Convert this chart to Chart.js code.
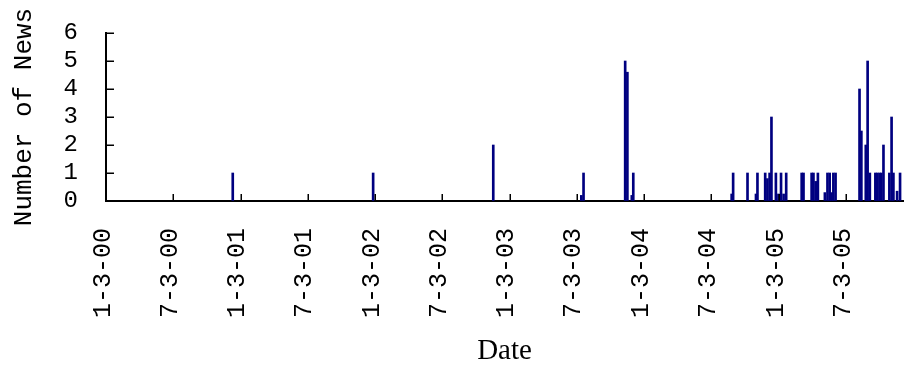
<!DOCTYPE html>
<html>
<head>
<meta charset="utf-8">
<script src="https://cdn.jsdelivr.net/npm/chart.js@4.4.1/dist/chart.umd.min.js"></script>
<style>
  html, body { margin: 0; padding: 0; background: #fff; }
  #wrap { width: 904px; height: 381px; }
</style>
</head>
<body>
<div id="wrap"><canvas id="news" width="904" height="381"></canvas></div>
<script>
// Publication dates and the number of news items published on each
const newsDates = [
  '2000-12-12', '2001-12-28', '2002-11-19',
  '2003-07-16', '2003-07-22',
  '2003-11-12', '2003-11-18', '2003-11-30', '2003-12-04',
  '2004-08-27', '2004-08-31', '2004-10-09', '2004-11-01', '2004-11-05',
  '2004-11-26', '2004-12-02', '2004-12-08', '2004-12-13', '2004-12-25',
  '2005-01-01', '2005-01-08', '2005-01-15', '2005-01-22',
  '2005-03-05', '2005-03-10', '2005-04-01', '2005-04-06', '2005-04-12', '2005-04-18',
  '2005-05-07', '2005-05-14', '2005-05-20', '2005-05-25', '2005-05-30', '2005-06-05',
  '2005-08-09', '2005-08-14', '2005-08-26', '2005-08-31', '2005-09-06',
  '2005-09-21', '2005-09-26', '2005-10-02', '2005-10-07', '2005-10-13',
  '2005-10-29', '2005-11-04', '2005-11-09', '2005-11-19', '2005-11-27'
];
const newsCounts = [
  1, 1, 2,
  0.2, 1,
  5, 4.6, 0.2, 1,
  0.25, 1, 1, 0.25, 1,
  1, 0.8, 1, 3, 1,
  0.25, 1, 0.25, 1,
  1, 1, 1, 1, 0.7, 1,
  0.3, 1, 1, 0.3, 1, 1,
  4, 2.5, 2, 5, 1,
  1, 1, 1, 1, 2,
  1, 3, 1, 0.35, 1
];

// Half-yearly axis marks
const tickDates = [
  '2000-01-03', '2000-07-03', '2001-01-03', '2001-07-03', '2002-01-03', '2002-07-03',
  '2003-01-03', '2003-07-03', '2004-01-03', '2004-07-03', '2005-01-03', '2005-07-03'
];
const tickLabels = [
  '1-3-00', '7-3-00', '1-3-01', '7-3-01', '1-3-02', '7-3-02',
  '1-3-03', '7-3-03', '1-3-04', '7-3-04', '1-3-05', '7-3-05'
];
const axisStart = '2000-01-03';
const axisEnd = '2005-12-05';

// Days elapsed since the start of the axis
function dayOf(iso) {
  const [y, m, d] = iso.split('-').map(Number);
  const [y0, m0, d0] = axisStart.split('-').map(Number);
  return Math.round((Date.UTC(y, m - 1, d) - Date.UTC(y0, m0 - 1, d0)) / 86400000);
}

const points = newsDates.map((d, i) => ({ x: dayOf(d), y: newsCounts[i] }));

// Short tick marks pointing into the plot area
const inwardTicks = {
  id: 'inwardTicks',
  afterDatasetsDraw(chart) {
    const { ctx, chartArea, scales } = chart;
    ctx.save();
    ctx.strokeStyle = '#000';
    ctx.lineWidth = 1.5;
    ctx.beginPath();
    scales.x.ticks.forEach((t, i) => {
      const px = Math.round(scales.x.getPixelForTick(i)) + 0.25;
      ctx.moveTo(px, chartArea.bottom);
      ctx.lineTo(px, chartArea.bottom - 7);
    });
    scales.y.ticks.forEach((t, i) => {
      const py = Math.round(scales.y.getPixelForTick(i)) + 0.25;
      ctx.moveTo(chartArea.left, py);
      ctx.lineTo(chartArea.left + 8, py);
    });
    ctx.stroke();
    ctx.restore();
  }
};

function noScalePadding(scale) {
  scale.paddingTop = 0;
  scale.paddingBottom = 0;
  scale.paddingLeft = 0;
  scale.paddingRight = 0;
}

new Chart(document.getElementById('news'), {
  type: 'bar',
  data: {
    datasets: [{
      data: points,
      backgroundColor: '#000080',
      borderWidth: 0,
      barThickness: 2
    }]
  },
  options: {
    responsive: false,
    animation: false,
    events: [],
    layout: { padding: { top: 33, right: 1, bottom: 0, left: 0 } },
    plugins: { legend: { display: false }, tooltip: { enabled: false } },
    scales: {
      x: {
        type: 'linear',
        offset: false,
        min: 0,
        max: dayOf(axisEnd),
        afterBuildTicks(scale) {
          scale.ticks = tickDates.map(d => ({ value: dayOf(d) }));
        },
        afterFit(scale) { scale.height = 180; noScalePadding(scale); },
        grid: { display: true, drawOnChartArea: false, drawTicks: false, offset: false },
        border: { display: true, color: '#000', width: 2 },
        ticks: {
          autoSkip: false,
          minRotation: 90,
          maxRotation: 90,
          padding: 27,
          labelOffset: -3,
          color: '#000',
          font: { family: 'Liberation Mono', size: 25 },
          callback: (v, i) => tickLabels[i]
        },
        title: {
          display: true,
          text: 'Date',
          color: '#000',
          font: { family: 'Liberation Serif', size: 29, lineHeight: 1 },
          padding: { top: 0, bottom: 15 }
        }
      },
      y: {
        min: 0,
        max: 6,
        afterFit(scale) { scale.width = 106; noScalePadding(scale); },
        grid: { display: true, drawOnChartArea: false, drawTicks: false },
        border: { display: true, color: '#000', width: 2 },
        ticks: {
          stepSize: 1,
          autoSkip: false,
          padding: 28,
          color: '#000',
          font: { family: 'Liberation Mono', size: 24 }
        },
        title: {
          display: true,
          text: 'Number of News',
          color: '#000',
          font: { family: 'Liberation Mono', size: 26, lineHeight: 1 },
          padding: { top: 11, bottom: 0 }
        }
      }
    }
  },
  plugins: [inwardTicks]
});
</script>
</body>
</html>
